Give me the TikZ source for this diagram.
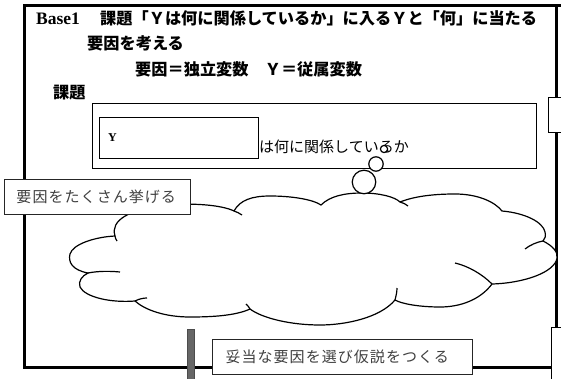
\documentclass[tikz,border=0pt]{standalone}
\usepackage{fontspec}
\setmainfont{Liberation Serif}
\newfontfamily\jp{Noto Sans CJK JP}
\newfontfamily\jpsp{Noto Sans CJK JP}[LetterSpace=7]
\definecolor{txtgray}{HTML}{404040}
\definecolor{bargray}{HTML}{666666}
\begin{document}
\begin{tikzpicture}[x=1pt,y=-1pt,
  frameline/.style={line width=3pt, line join=miter},
  thinbox/.style={draw=black, line width=1pt, fill=white, inner sep=0pt},
  notebox/.style={draw=black!85, line width=1pt, fill=white, inner sep=0pt,
    font=\jpsp\fontsize{15}{15}\selectfont, text=txtgray},
  bubble/.style={draw=black, line width=1.2pt, fill=white, circle, inner sep=0pt},
  cloudline/.style={draw=black, line width=1.2pt},
  heading/.style={anchor=west, inner sep=0pt, font=\jp\bfseries\fontsize{16.2}{16.2}\selectfont},
  plain/.style={anchor=west, inner sep=0pt}
]
\useasboundingbox (0,0) rectangle (561,379);
\fill[white] (0,0) rectangle (561,379);

% outer frame
\coordinate (tl) at (24.5,6);
\coordinate (tr) at (562,6);
\coordinate (bl) at (24.5,367);
\coordinate (br) at (551,367);
\coordinate (rt) at (556,6);
\coordinate (rb) at (556,328);
\draw[frameline] (tr) -- (tl) -- (bl) -- (br);
\draw[frameline] (rt) -- (rb);

% headings
\node[plain, font=\rmfamily\bfseries\fontsize{17.5}{17.5}\selectfont] (t1a) at (36,18.5) {Base1};
\node[heading] (t1b) at (100,18) {課題「Ｙは何に関係しているか」に入るＹと「何」に当たる};
\node[heading] (t2) at (87,43) {要因を考える};
\node[heading] (t3) at (135,69) {要因＝独立変数　Ｙ＝従属変数};
\node[heading] (t4) at (53,93) {課題};

% task box
\node[thinbox, anchor=north west, minimum width=444, minimum height=65] (task) at (92,103) {};
\node[thinbox, anchor=north west, minimum width=159, minimum height=41] (ybox) at (99,117) {};
\node[plain, font=\rmfamily\bfseries\fontsize{12}{12}\selectfont] (ylab) at (108,138) {Y};
\node[plain, font=\jp\fontsize{15}{15}\selectfont] (q) at (259,147) {は何に関係しているか};

% cloud
\draw[cloudline, fill=white] (115,236)
  .. controls (110,220) and (130,210) .. (160,206)
  .. controls (190,202) and (222,205) .. (234,211)
  .. controls (240,200) and (252,196) .. (270,196)
  .. controls (290,196) and (312,199) .. (321,205)
  .. controls (330,196) and (345,193) .. (362,193)
  .. controls (380,193) and (395,197) .. (400,202)
  .. controls (415,196) and (435,194) .. (455,194)
  .. controls (478,194) and (495,202) .. (502,211)
  .. controls (525,213) and (543,222) .. (545,232)
  .. controls (546,236) and (545,239) .. (543,241)
  .. controls (553,246) and (558,252) .. (557,258)
  .. controls (555,272) and (525,283) .. (492,284)
  .. controls (480,300) and (460,307) .. (440,307)
  .. controls (420,307) and (402,304) .. (395,300)
  .. controls (380,318) and (345,325) .. (320,325)
  .. controls (290,325) and (262,318) .. (250,309)
  .. controls (235,316) and (210,317) .. (190,317)
  .. controls (165,317) and (145,310) .. (135,301)
  .. controls (110,303) and (85,297) .. (80,287)
  .. controls (78,281) and (82,276) .. (88,273)
  .. controls (72,270) and (68,262) .. (70,254)
  .. controls (73,244) and (95,237) .. (115,236)
  -- cycle;
% inner hooks of the cloud
\draw[cloudline] (234,211) .. controls (237,212) and (239,213) .. (242,215);
\draw[cloudline] (400,202) .. controls (403,203) and (406,204) .. (408,206);
\draw[cloudline] (543,241) .. controls (537,242) and (530,245) .. (525,249);
\draw[cloudline] (492,284) .. controls (482,274) and (468,266) .. (455,263);
\draw[cloudline] (395,300) .. controls (396,296) and (397,292) .. (397,288);
\draw[cloudline] (250,309) .. controls (249,307) and (248,306) .. (246,304);
\draw[cloudline] (135,301) .. controls (139,299) and (143,298) .. (147,298);
\draw[cloudline] (88,273) .. controls (98,271) and (110,271) .. (120,272);
\draw[cloudline] (115,236) .. controls (115,238) and (116,239) .. (117,241);

% thought bubbles
\node[bubble, minimum size=7.2] (b1) at (384,149) {};
\node[bubble, minimum size=14.4] (b2) at (376,164) {};
\node[bubble, minimum size=23.5] (b3) at (364,182) {};

% notes
\node[notebox, anchor=north west, minimum width=186.5, minimum height=35] (note1) at (3.5,179)
  {\makebox[186.5pt][l]{\hspace{12.5pt}要因をたくさん挙げる}};
\node[notebox, anchor=north west, minimum width=260, minimum height=35] (note2) at (212,339)
  {\makebox[260pt][l]{\hspace{13pt}妥当な要因を選び仮説をつくる}};

% bar and side boxes
\node[draw=black!70, line width=0.6pt, fill=bargray, inner sep=0pt, anchor=north west,
  minimum width=7, minimum height=55] (bar) at (187,329) {};
\node[thinbox, anchor=north west, minimum width=20, minimum height=35] (sidea) at (548,97) {};
\node[thinbox, anchor=north west, minimum width=20, minimum height=60] (sideb) at (551,327) {};
\end{tikzpicture}
\end{document}
